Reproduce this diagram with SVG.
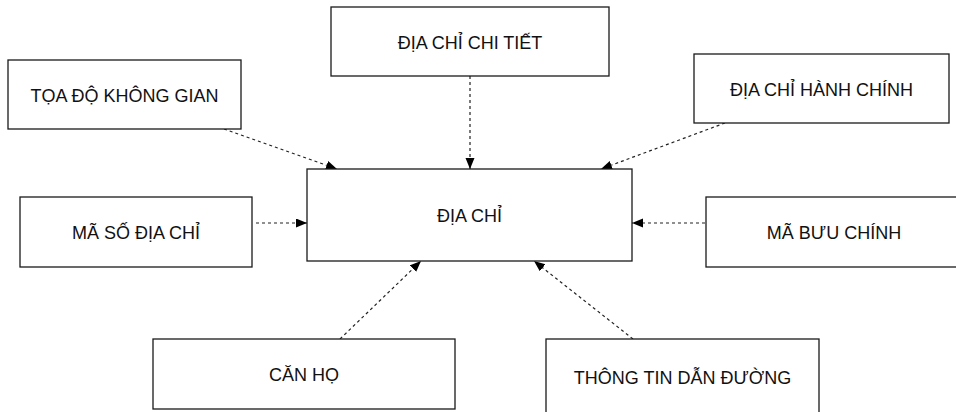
<svg xmlns="http://www.w3.org/2000/svg" width="956" height="412" viewBox="0 0 956 412">
<style>
.box{fill:#fff;stroke:#1a1a1a;stroke-width:1.3}
.lbl{font-family:"Liberation Sans",Arial,sans-serif;font-size:18px;fill:#111;text-anchor:middle}
.con{fill:none;stroke:#222;stroke-width:1.2;stroke-dasharray:3 3}
</style>
<defs>
<marker id="ah" markerUnits="userSpaceOnUse" markerWidth="12" markerHeight="10" refX="11" refY="4.5" orient="auto">
<path d="M0,0 L11,4.5 L0,9 z" fill="#000"/>
</marker>
</defs>
<rect width="956" height="412" fill="#fff"/>
<g id="connectors">
<line class="con" x1="224" y1="129" x2="337" y2="169" marker-end="url(#ah)"/>
<line class="con" x1="470" y1="76" x2="470" y2="169" marker-end="url(#ah)"/>
<line class="con" x1="725" y1="123" x2="601" y2="169" marker-end="url(#ah)"/>
<line class="con" x1="256" y1="223" x2="307" y2="223" marker-end="url(#ah)"/>
<line class="con" x1="705" y1="223" x2="632" y2="223" marker-end="url(#ah)"/>
<line class="con" x1="340" y1="339" x2="421" y2="261" marker-end="url(#ah)"/>
<line class="con" x1="633" y1="339" x2="534" y2="261" marker-end="url(#ah)"/>
</g>
<g id="node-dia-chi">
<rect class="box" x="307" y="169" width="325" height="92"/>
<text class="lbl" x="469.5" y="222">ĐỊA CHỈ</text>
</g>
<g id="node-toa-do">
<rect class="box" x="8" y="60" width="233" height="69"/>
<text class="lbl" x="124.5" y="102">TỌA ĐỘ KHÔNG GIAN</text>
</g>
<g id="node-chi-tiet">
<rect class="box" x="331" y="7" width="278" height="69"/>
<text class="lbl" x="470" y="49">ĐỊA CHỈ CHI TIẾT</text>
</g>
<g id="node-hanh-chinh">
<rect class="box" x="694" y="54" width="255" height="69"/>
<text class="lbl" x="821.5" y="96">ĐỊA CHỈ HÀNH CHÍNH</text>
</g>
<g id="node-ma-so">
<rect class="box" x="20" y="197" width="232" height="70"/>
<text class="lbl" x="136" y="239">MÃ SỐ ĐỊA CHỈ</text>
</g>
<g id="node-ma-buu">
<rect class="box" x="706" y="197" width="256" height="70"/>
<text class="lbl" x="834" y="239">MÃ BƯU CHÍNH</text>
</g>
<g id="node-can-ho">
<rect class="box" x="153" y="339" width="302" height="70"/>
<text class="lbl" x="304" y="381">CĂN HỌ</text>
</g>
<g id="node-thong-tin">
<rect class="box" x="546" y="339" width="273" height="78"/>
<text class="lbl" x="682.5" y="384">THÔNG TIN DẪN ĐƯỜNG</text>
</g>
</svg>
